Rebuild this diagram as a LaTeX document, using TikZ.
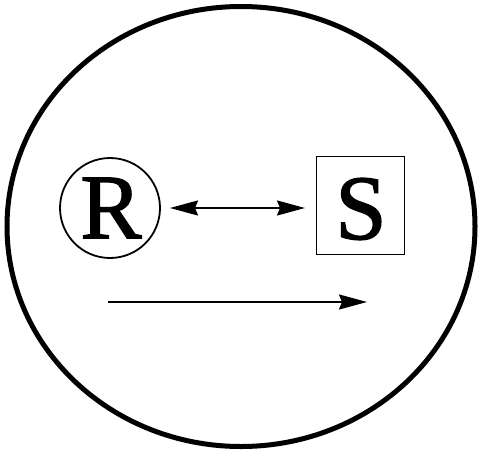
\documentclass[tikz,border=0pt]{standalone}
\usepackage{fontspec}
\setmainfont{Liberation Serif}
\newfontfamily\heavyserif[FakeBold=1.5]{Liberation Serif}
\usetikzlibrary{arrows.meta}
\begin{document}
\begin{tikzpicture}[x=1pt,y=-1pt,
  letter/.style={font=\heavyserif\fontsize{92}{92}\selectfont, inner sep=0pt},
  conn/.style={line width=2pt, -{Stealth[length=28pt,width=15pt,inset=3pt]}},
  dconn/.style={line width=2pt, {Stealth[length=28pt,width=15pt,inset=3pt]}-{Stealth[length=28pt,width=15pt,inset=3pt]}}]
\useasboundingbox (0,0) rectangle (478,452);
\draw[line width=5pt] (241,226.5) ellipse [x radius=234, y radius=220];
\node[draw, circle, line width=1.8pt, minimum size=100pt, inner sep=0pt] (R) at (110,208) {};
\node[letter] (Rl) at (111,208) {R};
\node[draw, rectangle, line width=1.8pt, minimum width=88pt, minimum height=98pt, inner sep=0pt] (S) at (360.5,205.5) {};
\node[letter] (Sl) at (361,209) {S};
\coordinate (a1) at (170,208);
\coordinate (a2) at (305,208);
\draw[dconn] (a1) -- (a2);
\coordinate (b1) at (108,302);
\coordinate (b2) at (367,302);
\draw[conn] (b1) -- (b2);
\end{tikzpicture}
\end{document}
